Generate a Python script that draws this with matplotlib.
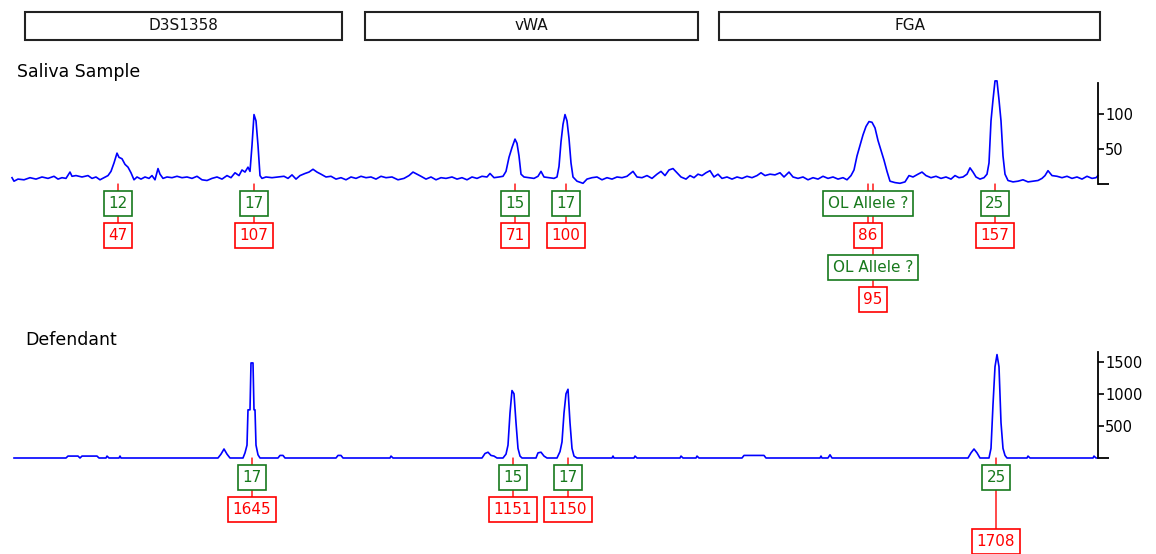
import matplotlib.pyplot as plt
from matplotlib.patches import Rectangle
from matplotlib.transforms import blended_transform_factory

# loci headers (scan units)
loci = ["D3S1358", "vWA", "FGA"]
loci_start = [25, 365, 719]
loci_end = [342, 698, 1100]

# saliva sample trace (scan, RFU)
saliva_x = [12, 14, 18, 24, 30, 36, 42, 48, 54, 58, 62, 66, 70, 72, 76, 82, 88, 92, 96, 100,
            104, 108, 111, 114, 117, 119, 122, 125, 128, 131, 134, 137, 141, 145, 149, 152, 155, 158, 160, 163,
            167, 172, 177, 182, 187, 192, 197, 202, 207, 212, 217, 222, 227, 231, 235, 239, 242, 245, 248, 250,
            252, 254, 256, 258, 260, 262, 266, 272, 278, 284, 288, 292, 296, 300, 305, 309, 313, 317, 321, 326,
            331, 336, 341, 346, 351, 356, 361, 366, 371, 376, 381, 386, 392, 398, 404, 409, 413, 417, 421, 426,
            431, 436, 441, 446, 452, 457, 462, 467, 472, 477, 482, 487, 490, 494, 499, 503, 506, 509, 512, 515,
            517, 519, 521, 524, 529, 534, 538, 541, 544, 549, 554, 557, 559, 561, 563, 565, 567, 569, 571, 573,
            577, 583, 587, 592, 597, 602, 607, 612, 617, 622, 627, 633, 637, 642, 647, 652, 657, 661, 665, 669,
            673, 677, 681, 686, 690, 694, 698, 702, 706, 710, 714, 718, 722, 727, 732, 737, 742, 747, 752, 757,
            761, 765, 770, 775, 780, 784, 789, 793, 798, 803, 808, 813, 818, 823, 828, 833, 838, 843, 847, 851,
            854, 857, 860, 863, 866, 869, 872, 875, 878, 881, 884, 887, 890, 895, 900, 905, 909, 913, 918, 922,
            926, 931, 936, 941, 946, 951, 955, 959, 963, 967, 970, 973, 976, 980, 984, 987, 989, 991, 993, 995,
            997, 999, 1001, 1003, 1005, 1008, 1013, 1018, 1023, 1028, 1033, 1038, 1042, 1045, 1048, 1052, 1057, 1062, 1067, 1072,
            1077, 1082, 1087, 1092, 1096, 1098]
saliva_rfu = [9, 4, 7, 6, 9, 7, 10, 8, 11, 7, 9, 8, 17, 11, 12, 10, 12, 8, 10, 6,
              9, 12, 18, 30, 44, 38, 36, 28, 24, 16, 6, 10, 7, 10, 8, 12, 6, 22, 14, 8,
              10, 9, 11, 9, 10, 8, 11, 6, 5, 8, 10, 7, 12, 9, 16, 12, 20, 17, 24, 18,
              55, 99, 90, 55, 12, 8, 10, 9, 10, 11, 8, 13, 7, 12, 15, 17, 21, 17, 14, 10,
              11, 7, 9, 6, 10, 8, 11, 9, 10, 7, 11, 9, 10, 6, 8, 12, 17, 14, 11, 7,
              10, 6, 9, 8, 10, 7, 9, 6, 10, 8, 11, 10, 15, 9, 10, 11, 18, 38, 52, 64,
              58, 40, 14, 10, 9, 8, 11, 18, 10, 9, 8, 10, 25, 60, 85, 99, 90, 65, 30, 10,
              4, 1, 7, 9, 10, 6, 9, 7, 10, 9, 11, 18, 10, 9, 12, 8, 14, 18, 12, 20,
              22, 16, 10, 7, 12, 9, 14, 12, 16, 19, 10, 14, 8, 10, 7, 10, 8, 11, 9, 12,
              16, 12, 14, 13, 16, 10, 17, 10, 8, 10, 6, 9, 7, 11, 8, 10, 7, 9, 6, 12,
              20, 40, 55, 70, 82, 89, 88, 80, 62, 48, 34, 18, 4, 2, 1, 3, 12, 10, 14, 17,
              12, 9, 11, 8, 10, 7, 12, 9, 10, 14, 23, 17, 10, 7, 9, 14, 30, 90, 120, 147,
              147, 120, 90, 40, 14, 5, 3, 4, 6, 3, 4, 5, 8, 12, 19, 12, 11, 9, 11, 8,
              10, 7, 11, 8, 9, 12]

# defendant trace (scan, RFU)
defendant_x = [14, 66, 68, 78, 80, 82, 97, 99, 106, 107, 109, 119, 120, 121, 218, 221, 224, 227, 230, 243,
               245, 247, 248, 250, 251, 253, 254, 255, 256, 258, 260, 278, 280, 283, 285, 336, 338, 341, 343, 390,
               391, 393, 482, 485, 488, 491, 494, 497, 503, 506, 508, 510, 512, 514, 516, 518, 520, 522, 536, 538,
               541, 544, 547, 557, 560, 562, 564, 566, 568, 570, 572, 574, 577, 612, 613, 614, 634, 635, 637, 680,
               681, 683, 696, 697, 699, 742, 744, 764, 766, 820, 821, 822, 828, 830, 832, 968, 971, 974, 977, 980,
               989, 991, 993, 995, 997, 999, 1001, 1003, 1005, 1007, 1027, 1028, 1030, 1093, 1094, 1096, 1098]
defendant_rfu = [0, 0, 30, 30, 0, 30, 30, 0, 0, 30, 0, 0, 30, 0, 0, 60, 140, 60, 0, 0,
                 80, 200, 750, 750, 1480, 1480, 750, 750, 200, 50, 0, 0, 40, 40, 0, 0, 40, 40, 0, 0,
                 30, 0, 0, 70, 90, 40, 30, 0, 0, 60, 200, 700, 1050, 1000, 550, 150, 30, 0, 0, 80,
                 90, 30, 0, 0, 100, 250, 700, 1000, 1070, 550, 150, 30, 0, 0, 30, 0, 0, 30, 0, 0,
                 30, 0, 0, 30, 0, 0, 40, 40, 0, 0, 30, 0, 0, 50, 0, 0, 80, 140, 80, 0,
                 0, 150, 830, 1420, 1610, 1420, 550, 150, 40, 0, 0, 30, 0, 0, 30, 0, 0]

# allele calls: position, allele name, peak height, label rows
saliva_pos = [118, 254, 515, 566, 868, 995, 873]
saliva_allele = ["12", "17", "15", "17", "OL Allele ?", "25", "OL Allele ?"]
saliva_height = [47, 107, 71, 100, 86, 157, 95]
saliva_allele_row = [0, 0, 0, 0, 0, 0, 2]
saliva_height_row = [1, 1, 1, 1, 1, 1, 3]

defendant_pos = [252, 513, 568, 996]
defendant_allele = ["17", "15", "17", "25"]
defendant_height = [1645, 1151, 1150, 1708]
defendant_allele_row = [0, 0, 0, 0]
defendant_height_row = [1, 1, 1, 2]

W, H = 1156, 554
fig = plt.figure(figsize=(W / 100, H / 100), dpi=100)
plt.rcParams['font.family'] = 'DejaVu Sans'

blue = '#0000ff'
green = '#17791c'
red = '#ff0000'


def px_axes(top, bottom):
    return [12 / W, 1 - bottom / H, (1098 - 12) / W, (bottom - top) / H]


ax1 = fig.add_axes(px_axes(83, 184))
ax2 = fig.add_axes(px_axes(352, 458))


def style(ax, ymax, ticks):
    ax.set_xlim(12, 1098)
    ax.set_ylim(0, ymax)
    for s in ['top', 'left', 'bottom']:
        ax.spines[s].set_visible(False)
    ax.spines['right'].set_linewidth(1.3)
    ax.set_xticks([])
    ax.yaxis.tick_right()
    ax.set_yticks(ticks)
    ax.set_yticks([0], minor=True)
    ax.tick_params(axis='y', which='major', direction='out', length=4.5, width=1.2,
                   pad=0.5, labelsize=10.5)
    ax.tick_params(axis='y', which='minor', direction='out', length=8, width=1.3)
    ax.patch.set_visible(False)


style(ax1, 144, [50, 100])
style(ax2, 1650, [500, 1000, 1500])

ax1.plot(saliva_x, saliva_rfu, color=blue, lw=1.2, clip_on=False)
ax2.plot(defendant_x, defendant_rfu, color=blue, lw=1.2, clip_on=False)


def row_off(r):
    return 19.5 + 32 * r


def calls(ax, pos, alleles, heights, arow, hrow):
    for x, a, h, ra, rh in zip(pos, alleles, heights, arow, hrow):
        # red stem from baseline to the height box
        ax.annotate('', xy=(x, 0), xycoords=('data', 'axes fraction'),
                    xytext=(0, -row_off(rh)), textcoords='offset pixels',
                    arrowprops=dict(arrowstyle='-', color=red, lw=1.0, shrinkA=0, shrinkB=0),
                    annotation_clip=False, zorder=1)
        ax.annotate(a, xy=(x, 0), xycoords=('data', 'axes fraction'),
                    xytext=(0, -row_off(ra)), textcoords='offset pixels',
                    ha='center', va='center', fontsize=11, color=green,
                    bbox=dict(boxstyle='square,pad=0.3', fc='white', ec=green, lw=1.2),
                    annotation_clip=False, zorder=5)
        ax.annotate(str(h), xy=(x, 0), xycoords=('data', 'axes fraction'),
                    xytext=(0, -row_off(rh)), textcoords='offset pixels',
                    ha='center', va='center', fontsize=11, color=red,
                    bbox=dict(boxstyle='square,pad=0.3', fc='white', ec=red, lw=1.2),
                    annotation_clip=False, zorder=5)


calls(ax1, saliva_pos, saliva_allele, saliva_height, saliva_allele_row, saliva_height_row)
calls(ax2, defendant_pos, defendant_allele, defendant_height, defendant_allele_row, defendant_height_row)

# locus header boxes
tr = blended_transform_factory(ax1.transData, fig.transFigure)
y0, y1 = 1 - 40 / H, 1 - 12 / H
for name, a, b in zip(loci, loci_start, loci_end):
    ax1.add_patch(Rectangle((a, y0), b - a, y1 - y0, transform=tr, fill=False,
                            ec='#222222', lw=1.5, clip_on=False))
    ax1.text((a + b) / 2, (y0 + y1) / 2, name, transform=tr, ha='center', va='center',
             fontsize=11, color='#111111')

fig.text(17 / W, 1 - 72 / H, "Saliva Sample", fontsize=12.5, ha='left', va='center')
fig.text(25 / W, 1 - 340 / H, "Defendant", fontsize=12.5, ha='left', va='center')

fig.savefig("out.png", dpi=100)
